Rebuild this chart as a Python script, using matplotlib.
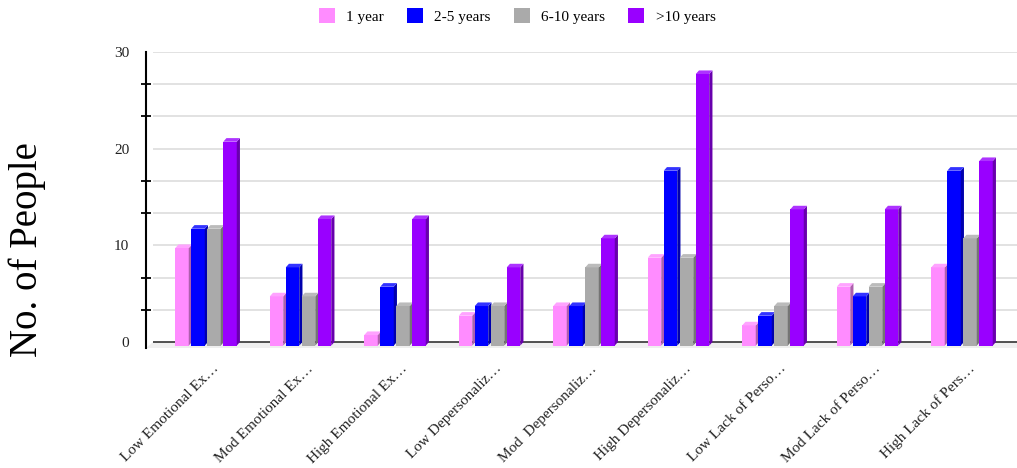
import numpy as np
import matplotlib
matplotlib.use("Agg")
from matplotlib import pyplot as plt
from matplotlib import transforms
from matplotlib import colors as mcolors
from matplotlib.patches import Polygon, Patch
from matplotlib.ticker import FixedLocator

plt.rcParams['font.family'] = ['Liberation Serif', 'DejaVu Serif']

# Données
categories = ["Low Emotional Ex\u2026", "Mod Emotional Ex\u2026", "High Emotional Ex\u2026",
              "Low Depersonaliz\u2026", "Mod  Depersonaliz\u2026", "High Depersonaliz\u2026",
              "Low Lack of Perso\u2026", "Mod Lack of Perso\u2026", "High Lack of Pers\u2026"]
series_names = ["1 year", "2-5 years", "6-10 years", ">10 years"]
one_year = [10, 5, 1, 3, 4, 9, 2, 6, 8]
two_five_years = [12, 8, 6, 4, 4, 18, 3, 5, 18]
six_ten_years = [12, 5, 4, 4, 8, 9, 4, 6, 11]
over_ten_years = [21, 13, 13, 8, 11, 28, 14, 14, 19]
series_colors = ["#ff8cff", "#0000ff", "#aaaaaa", "#9900ff"]
y_major = [0, 10, 20, 30]

series = [one_year, two_five_years, six_ten_years, over_ten_years]

# Echelle en pixels (pour l'effet 3D)
W, H = 1017, 468
ax_left, ax_right, ax_top, ax_bottom = 146, 1017, 52, 348
px_x = 94.5                       # pixels par catégorie
y_min, y_max = -0.62, 30
px_y = (ax_bottom - ax_top) / (y_max - y_min)
x_min = -0.645
x_max = x_min + (ax_right - ax_left) / px_x

bar_offsets = [-31.7, -15.7, 0.3, 16.3]   # bord gauche de chaque barre (px)
bar_w = 13.5 / px_x
dx = 3.2 / px_x
dy = 3.6 / px_y
bar_bottom = -0.37


def shade(c, f):
    r, g, b = mcolors.to_rgb(c)
    return (r * f, g * f, b * f)


def tint(c, f):
    r, g, b = mcolors.to_rgb(c)
    return (r + (1 - r) * f, g + (1 - g) * f, b + (1 - b) * f)


fig = plt.figure(figsize=(W / 100, H / 100), dpi=100)
ax = fig.add_axes([ax_left / W, 1 - ax_bottom / H, (ax_right - ax_left) / W, (ax_bottom - ax_top) / H])
ax.set_xlim(x_min, x_max)
ax.set_ylim(y_min, y_max)

# Sol et grille
grid_start = x_min + 7 / px_x
floor = Polygon([(x_min, y_min), (x_max, y_min), (x_max, 0), (grid_start, 0)],
                closed=True, facecolor="#efefef", edgecolor="none", zorder=0)
ax.add_patch(floor)
grid_vals = np.arange(1, 10) * 10 / 3
ax.hlines(grid_vals, grid_start, x_max, colors="#e2e2e2", linewidth=1.4, zorder=1)
ax.hlines([0], grid_start, x_max, colors="#333333", linewidth=1.2, zorder=1)

# Barres avec effet 3D
x = np.arange(len(categories))
for k, vals in enumerate(series):
    vals = np.asarray(vals, dtype=float)
    lefts = x + bar_offsets[k] / px_x
    tops = vals - 0.28
    ax.bar(lefts, tops - bar_bottom, width=bar_w, bottom=bar_bottom, align="edge",
           color=series_colors[k], edgecolor="none", zorder=3)
    for xl, t in zip(lefts, tops):
        xr = xl + bar_w
        side = Polygon([(xr, bar_bottom), (xr + dx, bar_bottom + dy), (xr + dx, t + dy), (xr, t)],
                       closed=True, facecolor=shade(series_colors[k], 0.68), edgecolor="none", zorder=3)
        top = Polygon([(xl, t), (xr, t), (xr + dx, t + dy), (xl + dx, t + dy)],
                      closed=True, facecolor=tint(series_colors[k], 0.2), edgecolor="none", zorder=3)
        ax.add_patch(side)
        ax.add_patch(top)

# Axes
for s in ["top", "right", "bottom"]:
    ax.spines[s].set_visible(False)
ax.spines["left"].set_linewidth(1.5)
ax.spines["left"].set_color("black")

ax.yaxis.set_major_locator(FixedLocator(y_major))
ax.yaxis.set_minor_locator(FixedLocator([v for v in grid_vals if abs(v % 10) > 0.01 and abs(v % 10 - 10) > 0.01]))
ax.tick_params(axis="y", which="major", length=0, pad=12, labelsize=11, labelcolor="#222222")
ax.tick_params(axis="y", which="minor", length=7, width=1.3, direction="inout", color="black")

ax.set_xticks(x)
ax.set_xticklabels(categories, rotation=45, ha="right", va="top", rotation_mode="anchor", fontsize=11,
                   color="#222222")
ax.tick_params(axis="x", length=0, pad=10)
offset = transforms.ScaledTranslation(5 / 100, 0, fig.dpi_scale_trans)
for lab in ax.get_xticklabels():
    lab.set_transform(lab.get_transform() + offset)

fig.text(27 / W, 1 - 250 / H, "No. of People", rotation=90, ha="center", va="center", fontsize=28)

handles = [Patch(facecolor=c, edgecolor="none", label=n) for c, n in zip(series_colors, series_names)]
fig.legend(handles=handles, loc="center", bbox_to_anchor=(517 / W, 1 - 16 / H), ncol=4, frameon=False,
           fontsize=11, handlelength=1.05, handleheight=1.05, handletextpad=0.75, columnspacing=1.5)

fig.savefig("out.png", dpi=100)
